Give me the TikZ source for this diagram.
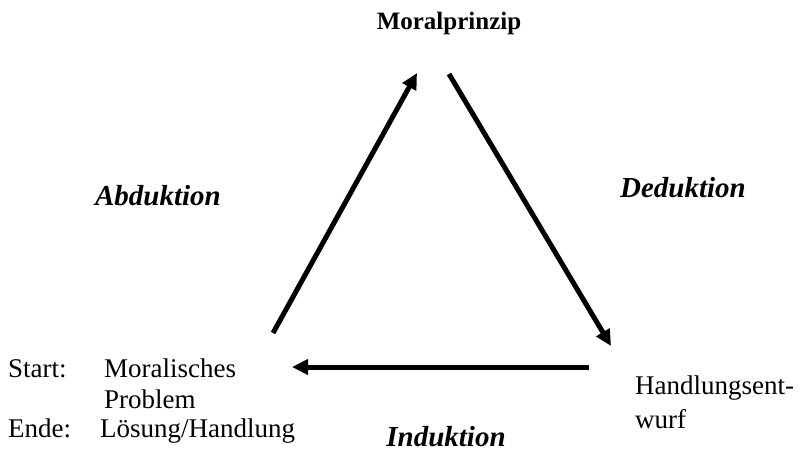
\documentclass[tikz,border=0pt]{standalone}
\usepackage{fontspec}
\setmainfont{Liberation Serif}
\usetikzlibrary{arrows.meta,positioning}

\begin{document}
\begin{tikzpicture}[
  x=1pt, y=-1pt,
  txt/.style={font=\fontsize{27}{31}\selectfont, inner sep=0pt, anchor=base west},
  method/.style={font=\fontsize{29}{33}\selectfont\bfseries\itshape, inner sep=0pt, anchor=base},
  top/.style={font=\fontsize{25}{30}\selectfont\bfseries, inner sep=0pt, anchor=base},
  infer_arr/.style={-{Triangle[length=16pt,width=15pt]}, line width=5pt}
]
  \useasboundingbox (0,0) rectangle (805,457);

  % Corners of the triangle
  \node[top] (prinzip) at (449,30) {Moralprinzip};
  \node[txt] (start) at (8,377) {Start:};
  \node[txt] (problem1) at (104,377) {Moralisches};
  \node[txt] (problem2) at (104,408) {Problem};
  \node[txt] (ende) at (8,437) {Ende:};
  \node[txt] (loesung) at (100,437) {Lösung/Handlung};
  \node[txt] (entwurf1) at (635,394) {Handlungsent-};
  \node[txt] (entwurf2) at (635,428) {wurf};

  % Arrow ends
  \coordinate (abd_s) at (273,333);
  \coordinate (abd_e) at (417,73);
  \coordinate (ded_s) at (449,74);
  \coordinate (ded_e) at (611,346);
  \coordinate (ind_s) at (589,367);
  \coordinate (ind_e) at (292,367);

  % Inference steps
  \draw[infer_arr] (abd_s) -- (abd_e);
  \draw[infer_arr] (ded_s) -- (ded_e);
  \draw[infer_arr] (ind_s) -- (ind_e);

  \node[method] (abduktion) at (158,205) {Abduktion};
  \node[method] (deduktion) at (683,197) {Deduktion};
  \node[method] (induktion) at (446,446) {Induktion};
\end{tikzpicture}
\end{document}
